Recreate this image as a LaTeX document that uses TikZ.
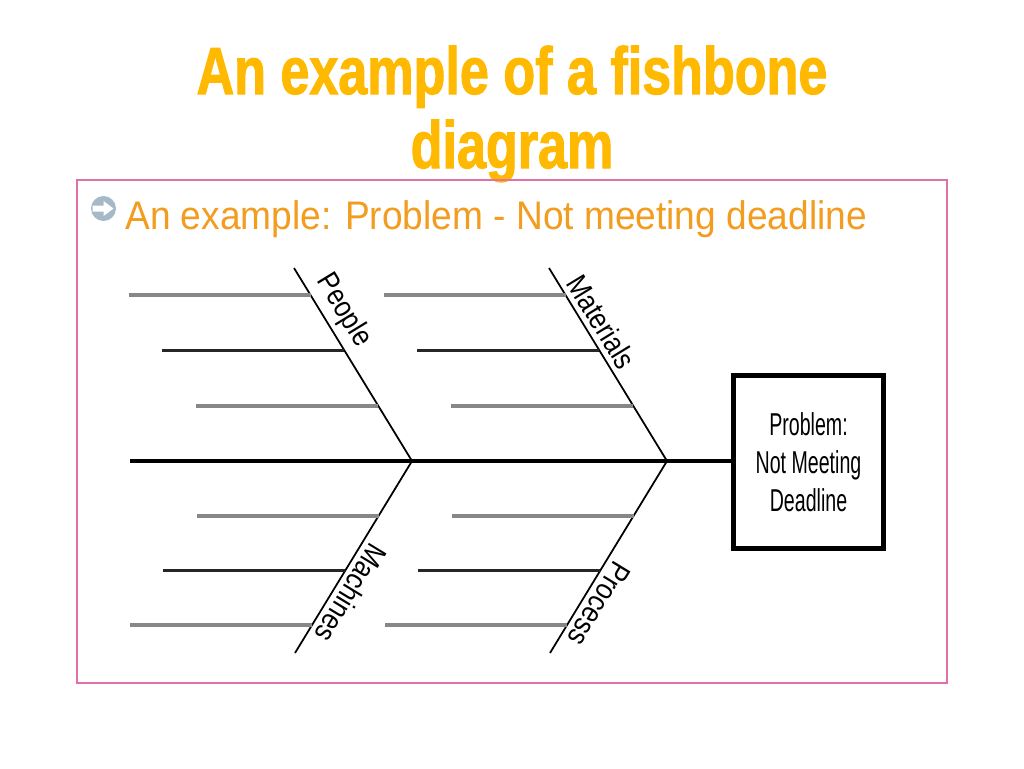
\documentclass[tikz,border=0pt]{standalone}
\usepackage{fontspec}
\setmainfont{Liberation Sans}
\newfontfamily\headfont[FakeStretch=0.78, FakeBold=1.5]{Liberation Sans}
\newfontfamily\leadfont[FakeStretch=0.93]{Liberation Sans}
\newfontfamily\probfont[FakeStretch=0.62]{Liberation Sans}
\newfontfamily\bonefont[FakeStretch=0.85]{Liberation Sans}
\usetikzlibrary{calc}

\definecolor{titleyellow}{RGB}{255,185,0}
\definecolor{leadorange}{RGB}{242,156,32}
\definecolor{framepink}{RGB}{226,112,170}
\definecolor{bulletblue}{RGB}{165,185,200}
\definecolor{ribgray}{RGB}{135,135,135}

\tikzset{
  spine/.style={line width=2.6pt, black},
  bone/.style={line width=1pt, black},
  grayrib/.style={line width=2.2pt, ribgray},
  blackrib/.style={line width=1.3pt, black!85},
  bonelabel/.style={sloped, above, inner sep=3pt, font=\bonefont\fontsize{17}{20}\selectfont},
  headline/.style={anchor=base, text=titleyellow, font=\headfont\bfseries\fontsize{38}{40}\selectfont}
}

\begin{document}
\begin{tikzpicture}[x=0.02cm, y=-0.02cm]
  \useasboundingbox (0,0) rectangle (1024,768);

  % title
  \node[headline] (title1) at (512,94) {An example of a fishbone};
  \node[headline] (title2) at (512,168) {diagram};

  % frame and bullet
  \draw[framepink, line width=0.6pt] (77,180) rectangle (947,683);
  \coordinate (bullet) at (103.5,208.5);
  \fill[bulletblue] (bullet) circle (12.5);
  \fill[white] (bullet) ++(-11,-3) -- ++(11,0) -- ++(0,-4.5) -- ++(10,7.5) -- ++(-10,7.5) -- ++(0,-4.5) -- ++(-11,0) -- cycle;
  \node[anchor=base west, inner sep=0pt, text=leadorange, font=\leadfont\fontsize{22.7}{26}\selectfont] (lead) at (125,229) {An example: Problem - Not meeting deadline};

  % head and spine
  \node[draw, line width=2.6pt, minimum width=3.0cm, minimum height=3.46cm, align=center,
        font=\probfont\fontsize{18}{21.5}\selectfont] (prob) at (808.5,462) {Problem:\\Not Meeting\\Deadline};
  \coordinate (tail) at (130,461);
  \draw[spine] (tail) -- (tail -| prob.west);

  % bones
  \coordinate (j1) at (412,461);
  \coordinate (j2) at (667,461);
  \coordinate (people) at (294,268);
  \coordinate (materials) at (549,268);
  \coordinate (machines) at (295,653);
  \coordinate (process) at (550,653);

  \draw[bone] (people) -- node[bonelabel, pos=0.275] {People} (j1);
  \draw[bone] (materials) -- node[bonelabel, pos=0.324] {Materials} (j2);
  \draw[bone] (j1) -- node[bonelabel, allow upside down, pos=0.645] {Machines} (machines);
  \draw[bone] (j2) -- node[bonelabel, allow upside down, pos=0.70] {Process} (process);

  % ribs
  \foreach \hi/\jt/\lo in {people/j1/machines, materials/j2/process}{
    \draw[grayrib] ($(\hi)!0.14!(\jt)$) -- ++(-182,0);
    \draw[blackrib] ($(\hi)!0.427!(\jt)$) -- ++(-182,0);
    \draw[grayrib] ($(\hi)!0.714!(\jt)$) -- ++(-182,0);
    \draw[grayrib] ($(\jt)!0.285!(\lo)$) -- ++(-182,0);
    \draw[blackrib] ($(\jt)!0.57!(\lo)$) -- ++(-182,0);
    \draw[grayrib] ($(\jt)!0.855!(\lo)$) -- ++(-182,0);
  }
\end{tikzpicture}
\end{document}
